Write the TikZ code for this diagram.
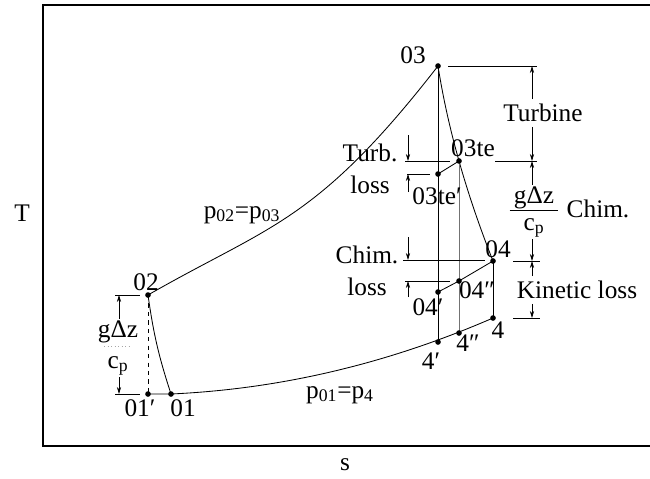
\documentclass[tikz,border=0pt]{standalone}
\usepackage{fontspec}
\setmainfont{Liberation Serif}
\usetikzlibrary{arrows.meta}

\begin{document}
\begin{tikzpicture}[x=0.025cm,y=-0.025cm,font=\fontsize{18}{22.5}\selectfont,
  courbe/.style={line width=0.6pt},
  rappel/.style={line width=0.5pt},
  cote/.style={line width=0.5pt,-{Stealth[length=5pt,width=3pt]}},
  pt/.style={circle,fill,inner sep=0pt,minimum size=4pt},
  frac/.style={align=center,inner sep=1pt,font=\fontsize{18}{19}\selectfont}]

  \useasboundingbox (0,0) rectangle (650,479);
  \draw[line width=0.8pt] (650,5) -- (43,5) -- (43,446) -- (650,446);

  \coordinate (P01p) at (148,394);
  \coordinate (P01)  at (171,394);
  \coordinate (P02)  at (148,295);
  \coordinate (P03)  at (438,66);
  \coordinate (P03te) at (459,161);
  \coordinate (P03tep) at (438,174);
  \coordinate (P04)  at (493,261);
  \coordinate (P04s) at (459,281);
  \coordinate (P04p) at (438,292);
  \coordinate (P4)   at (493,318);
  \coordinate (P4s)  at (459,333);
  \coordinate (P4p)  at (438,342);

  \draw[courbe] (P02) .. controls (270,225) and (316,223) .. (P03);
  \draw[courbe] (P01p) -- (P01) .. controls (280,389) and (387,364) .. (P4);
  \draw[courbe] (P02) to[bend right=5] (P01);
  \draw[rappel,dashed] (P02) -- (P01p);
  \draw[courbe] (P03) .. controls (447.7,127.7) and (466,192.7) .. (P04);
  \draw[courbe] (P03) -- (P4p);
  \draw[courbe,black!55] (P03te) -- (P4s);
  \draw[courbe] (P04) -- (P4);
  \draw[courbe] (P03te) -- (P03tep);
  \draw[courbe] (P04) -- (P04s) -- (P04p);

  \foreach \p in {P01p,P01,P02,P03,P03te,P03tep,P04,P04s,P04p,P4,P4s,P4p}
    \node[pt] (d\p) at (\p) {};

  \node (L01p) at (140,408) {01′};
  \node (L01)  at (183,408) {01};
  \node (L02)  at (146,282) {02};
  \node (L03)  at (413,55) {03};
  \node (L03te) at (473,148) {03te};
  \node (L03tep) at (437,196) {03te′};
  \node (L04)  at (498,249) {04};
  \node (L04s) at (477,290) {04″};
  \node (L04p) at (428,307) {04′};
  \node (L4)   at (498,330) {4};
  \node (L4s)  at (468,343) {4″};
  \node (L4p)  at (431,361) {4′};
  \node (Lp02) at (242,215) {p\textsubscript{02}=p\textsubscript{03}};
  \node (Lp01) at (340,395) {p\textsubscript{01}=p\textsubscript{4}};
  \node (LT)   at (22,213) {T};
  \node (Ls)   at (345,465) {s};

  % left: gdz/cp
  \coordinate (l0) at (119,295);
  \coordinate (l1) at (119,394);
  \draw[rappel] (115,295) -- (140,295);
  \draw[rappel] (115,394) -- (140,394);
  \node[frac] (Lgz) at (118,348) {gΔz\\[3pt]c\textsubscript{p}};
  \draw[rappel,black!35,dotted] (104,346) -- (132,346);
  \draw[cote] (Lgz.north -| l0) -- (l0);
  \draw[cote] (Lgz.south -| l1) -- (l1);

  % right column
  \coordinate (t0) at (532,66);
  \coordinate (t1) at (532,161);
  \coordinate (t2) at (532,261);
  \coordinate (t3) at (532,318);
  \draw[rappel] (448,66) -- (537,66);
  \draw[rappel] (495,161) -- (537,161);
  \draw[rappel] (513,261) -- (540,261);
  \draw[rappel] (513,318) -- (540,318);
  \node (Lturb) at (543,113) {Turbine};
  \node[frac] (Lchf) at (534,212) {\underline{\,gΔz\,}\\[0pt]c\textsubscript{p}};
  \node (Lchim) at (598,209) {Chim.};
  \node (Lkin) at (577,290) {Kinetic loss};
  \draw[cote] (Lturb.north -| t0) -- (t0);
  \draw[cote] (Lturb.south -| t1) -- (t1);
  \draw[cote] (Lchf.north -| t1) -- (t1);
  \draw[cote] (Lchf.south -| t2) -- (t2);
  \draw[cote] (Lkin.north -| t2) -- (t2);
  \draw[cote] (Lkin.south -| t3) -- (t3);

  % turbine and chimney losses
  \coordinate (a0) at (408,161);
  \coordinate (a1) at (408,174);
  \coordinate (b0) at (408,260);
  \coordinate (b1) at (408,281);
  \draw[rappel] (405,161) -- (450,161);
  \draw[rappel] (407,174) -- (430,174);
  \draw[rappel] (403,260) -- (485,260);
  \draw[rappel] (405,281) -- (450,281);
  \node[align=center] (Ltl) at (370,169) {Turb.\\loss};
  \node[align=center] (Lcl) at (367,271) {Chim.\\loss};
  \coordinate (a0e) at (408,135);
  \coordinate (a1e) at (408,192);
  \coordinate (b0e) at (408,237);
  \coordinate (b1e) at (408,297);
  \draw[cote] (a0e) -- (a0);
  \draw[cote] (a1e) -- (a1);
  \draw[cote] (b0e) -- (b0);
  \draw[cote] (b1e) -- (b1);
\end{tikzpicture}
\end{document}
